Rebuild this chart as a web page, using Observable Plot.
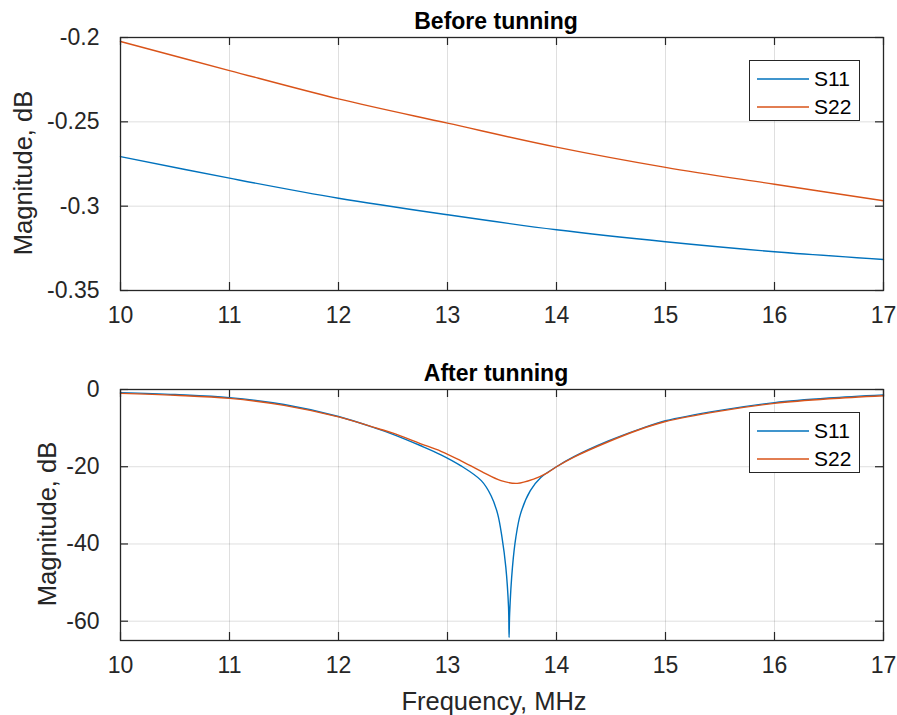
<!DOCTYPE html>
<html>
<head>
<meta charset="utf-8">
<script src="https://cdn.jsdelivr.net/npm/d3@7"></script>
<script src="https://cdn.jsdelivr.net/npm/@observablehq/plot@0.6"></script>
<style>
  body { margin: 0; background: #fff; }
  #wrap { position: relative; width: 897px; height: 715px; font-family: "Liberation Sans", Arial, sans-serif; background: #fff; overflow: hidden; }
  .panel { position: absolute; left: 0; }
  .legend { position: absolute; border: 1px solid #262626; background: #fff; box-sizing: border-box; width: 111px; height: 61px; }
  .legend .row { position: absolute; left: 0; height: 24px; display: flex; align-items: center; }
  .legend .sw { width: 52px; margin-left: 7px; margin-right: 5px; }
  .legend .lab { font-size: 21px; color: #000; }
</style>
</head>
<body>
<div id="wrap"></div>
<script>
// ---- data ----
const seriesNames = ["S11", "S22"];
const seriesColors = ["#0072BD", "#D95319"];
const xTicks = [10, 11, 12, 13, 14, 15, 16, 17];

// Before tunning
const freqBefore = [10, 11, 12, 13, 14, 15, 16, 17];
const s11Before = [-0.2706, -0.2834, -0.2953, -0.3051, -0.3140, -0.3211, -0.3270, -0.3316];
const s22Before = [-0.2024, -0.2196, -0.2364, -0.2508, -0.2650, -0.2770, -0.2870, -0.2968];
const yTicksBefore = [-0.35, -0.3, -0.25, -0.2];

// After tunning
const freqAfter = [10, 10.5, 11, 11.5, 12, 12.36, 12.5, 12.75, 12.94, 13.12, 13.31, 13.4, 13.46, 13.5, 13.535, 13.56, 13.565, 13.57, 13.596, 13.627, 13.67, 13.76, 13.856, 14, 14.16, 14.47, 14.77, 15, 15.5, 16, 16.5, 17];
const s11After = [-0.8, -1.3, -2.1, -3.9, -7.0, -10.2, -11.6, -14.5, -16.9, -19.7, -23.6, -27.5, -32.2, -38.3, -46.0, -56.4, -64.2, -58.1, -46.0, -38.3, -32.2, -26.2, -22.8, -20.0, -17.4, -13.4, -10.2, -8.1, -5.4, -3.4, -2.2, -1.4];
const freqAfter22 = [10, 10.5, 11, 11.5, 12, 12.36, 12.5, 12.75, 12.94, 13.12, 13.31, 13.49, 13.64, 13.79, 13.92, 14, 14.16, 14.47, 14.77, 15, 15.5, 16, 16.5, 17];
const s22After = [-1.0, -1.5, -2.3, -4.1, -7.1, -10.1, -11.3, -14.0, -16.0, -18.4, -21.2, -23.6, -24.3, -23.2, -21.5, -20.0, -17.5, -13.6, -10.3, -8.3, -5.6, -3.6, -2.4, -1.6];
const yTicksAfter = [-60, -40, -20, 0];

const titles = ["Before tunning", "After tunning"];
const yLabel = "Magnitude, dB";
const xLabel = "Frequency, MHz";

// ---- build ----
const FONT = '"Liberation Sans", Arial, sans-serif';
const INK = "#262626";

function rowsOf(freqA, a, freqB, b) {
  const rows = [];
  freqA.forEach((f, i) => rows.push({ f, v: a[i], s: seriesNames[0] }));
  freqB.forEach((f, i) => rows.push({ f, v: b[i], s: seriesNames[1] }));
  return rows;
}

function panel({ rows, yDomain, yTicks, title, height, mt, mb, ylabDx, xlab }) {
  const W = 897, ml = 120, mr = 14;
  const innerH = height - mt - mb;
  const innerW = W - ml - mr;
  const T = 8;
  const marks = [
    Plot.gridX({ ticks: xTicks, stroke: INK, strokeOpacity: 0.15, strokeWidth: 1 }),
    Plot.gridY({ ticks: yTicks, stroke: INK, strokeOpacity: 0.15, strokeWidth: 1 }),
    Plot.line(rows, { x: "f", y: "v", z: "s", stroke: "s", curve: "catmull-rom", strokeWidth: 1.4 }),
    Plot.tickX(xTicks, { x: d => d, insetTop: innerH - T, stroke: INK, strokeWidth: 1.2 }),
    Plot.tickX(xTicks, { x: d => d, insetBottom: innerH - T, stroke: INK, strokeWidth: 1.2 }),
    Plot.tickY(yTicks, { y: d => d, insetRight: innerW - T, stroke: INK, strokeWidth: 1.2 }),
    Plot.tickY(yTicks, { y: d => d, insetLeft: innerW - T, stroke: INK, strokeWidth: 1.2 }),
    Plot.frame({ stroke: INK, strokeWidth: 1.3 }),
    Plot.axisX({ ticks: xTicks, tickSize: 0, tickPadding: 16, fontSize: 23, label: null, tickFormat: d => String(d), fill: INK }),
    Plot.axisY({ ticks: yTicks, tickSize: 0, tickPadding: 21, fontSize: 23, label: null, tickFormat: d => String(d), fill: INK }),
    Plot.text([title], { frameAnchor: "top", textAnchor: "middle", lineAnchor: "bottom", dy: -9, dx: -6, fontWeight: "bold", fontSize: 23, fill: "#000" }),
    Plot.text([yLabel], { frameAnchor: "left", textAnchor: "middle", lineAnchor: "middle", rotate: -90, dx: ylabDx, dy: 9, fontSize: 25.5, fill: INK })
  ];
  if (xlab) {
    marks.push(Plot.text([xlab], { frameAnchor: "bottom", textAnchor: "middle", lineAnchor: "bottom", dy: 69, dx: -8, fontSize: 25.5, fill: INK }));
  }
  return Plot.plot({
    width: W, height,
    marginLeft: ml, marginRight: mr, marginTop: mt, marginBottom: mb,
    style: { fontFamily: FONT, fontSize: "23px", color: INK, background: "white", overflow: "visible" },
    x: { domain: [10, 17] },
    y: { domain: yDomain },
    color: { domain: seriesNames, range: seriesColors },
    marks
  });
}

function legend(top) {
  const div = document.createElement("div");
  div.className = "legend";
  div.style.left = "749px";
  div.style.top = top + "px";
  seriesNames.forEach((name, i) => {
    const row = document.createElement("div");
    row.className = "row";
    row.style.top = (6 + i * 27.5) + "px";
    row.innerHTML = `<svg class="sw" width="52" height="4"><line x1="0" x2="52" y1="2" y2="2" stroke="${seriesColors[i]}" stroke-width="1.5"/></svg><span class="lab">${name}</span>`;
    div.appendChild(row);
  });
  return div;
}

const wrap = document.getElementById("wrap");

const top1 = panel({
  rows: rowsOf(freqBefore, s11Before, freqBefore, s22Before),
  yDomain: [-0.35, -0.2], yTicks: yTicksBefore, title: titles[0],
  height: 340, mt: 37, mb: 50, ylabDx: -97
});
top1.classList.add("panel"); top1.style.top = "0px";
wrap.appendChild(top1);

const bot = panel({
  rows: rowsOf(freqAfter, s11After, freqAfter22, s22After),
  yDomain: [-65, 0], yTicks: yTicksAfter, title: titles[1],
  height: 375, mt: 49, mb: 75, ylabDx: -73, xlab: xLabel
});
bot.classList.add("panel"); bot.style.top = "340px";
wrap.appendChild(bot);

wrap.appendChild(legend(60));
wrap.appendChild(legend(412));
</script>
</body>
</html>
